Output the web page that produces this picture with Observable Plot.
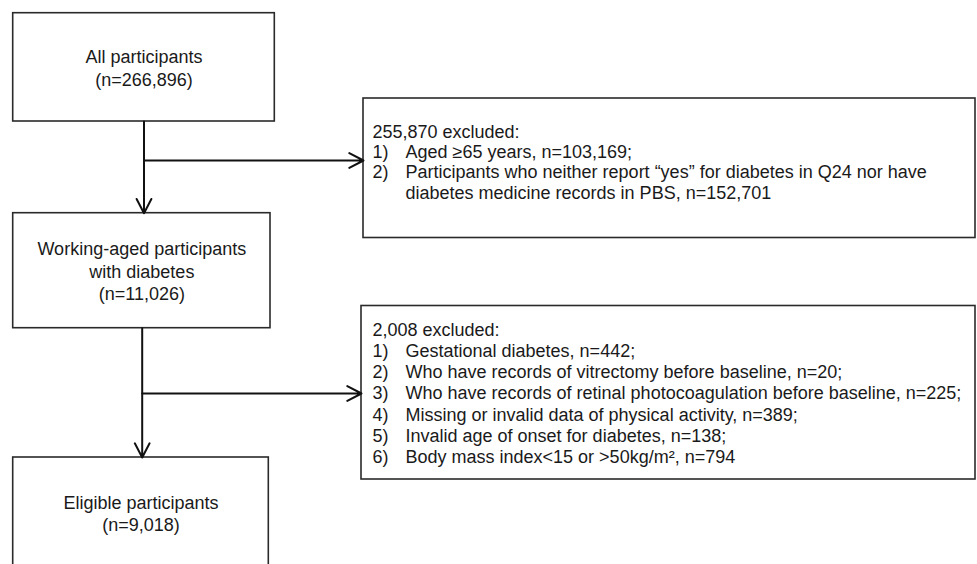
<!DOCTYPE html>
<html>
<head>
<meta charset="utf-8">
<script src="https://cdn.jsdelivr.net/npm/d3@7"></script>
<script src="https://cdn.jsdelivr.net/npm/@observablehq/plot@0.6"></script>
<style>
  html, body { margin: 0; padding: 0; background: #fff; overflow: hidden; }
</style>
</head>
<body>
<div id="chart"></div>
<script>
// ---- Data (text content of the flow diagram) ----
const stageLabels = [
  ["All participants", "(n=266,896)"],
  ["Working-aged participants", "with diabetes", "(n=11,026)"],
  ["Eligible participants", "(n=9,018)"]
];
const exclusionHeaders = ["255,870 excluded:", "2,008 excluded:"];
const exclusionNumbers1 = ["1)", "2)"];
const exclusionItems1 = [
  ["Aged ≥65 years, n=103,169;"],
  ["Participants who neither report “yes” for diabetes in Q24 nor have", "diabetes medicine records in PBS, n=152,701"]
];
const exclusionNumbers2 = ["1)", "2)", "3)", "4)", "5)", "6)"];
const exclusionItems2 = [
  ["Gestational diabetes, n=442;"],
  ["Who have records of vitrectomy before baseline, n=20;"],
  ["Who have records of retinal photocoagulation before baseline, n=225;"],
  ["Missing or invalid data of physical activity, n=389;"],
  ["Invalid age of onset for diabetes, n=138;"],
  ["Body mass index<15 or >50kg/m², n=794"]
];

// ---- Layout (diagram geometry) ----
const W = 977, H = 564;
const stageBoxes = [
  {x1: 12.7, y1: 12.7, x2: 274.3, y2: 121, lineY: [57, 80]},
  {x1: 12.7, y1: 212.7, x2: 270, y2: 327.7, lineY: [249, 271.5, 293.5]},
  {x1: 12.7, y1: 457, x2: 268.3, y2: 580, lineY: [503, 525]}
];
const exclBoxes = [
  {x1: 363, y1: 98, x2: 975, y2: 237.5, top: 131.7, step: 20.2},
  {x1: 361, y1: 305.5, x2: 975, y2: 479, top: 329.3, step: 21.3}
];
const numX = 372, itemX = 405, headX = 372;

const boxes = [...stageBoxes, ...exclBoxes];

const stageText = [];
stageBoxes.forEach((b, i) => {
  stageLabels[i].forEach((t, j) => {
    stageText.push({x: (b.x1 + b.x2) / 2, y: b.lineY[j], text: t});
  });
});

const exclText = [];
function addExcl(box, header, nums, items) {
  let row = 0;
  exclText.push({x: headX, y: box.top, text: header});
  row++;
  items.forEach((lines, i) => {
    exclText.push({x: numX, y: box.top + row * box.step, text: nums[i]});
    lines.forEach((l) => {
      exclText.push({x: itemX, y: box.top + row * box.step, text: l});
      row++;
    });
  });
}
addExcl(exclBoxes[0], exclusionHeaders[0], exclusionNumbers1, exclusionItems1);
addExcl(exclBoxes[1], exclusionHeaders[1], exclusionNumbers2, exclusionItems2);

const c1 = (stageBoxes[0].x1 + stageBoxes[0].x2) / 2;
const c2 = 141.7;
const arrows = [
  {x1: c1, y1: stageBoxes[0].y2, x2: c1, y2: stageBoxes[1].y1},
  {x1: c1, y1: 160, x2: exclBoxes[0].x1, y2: 160},
  {x1: c2, y1: stageBoxes[1].y2, x2: c2, y2: stageBoxes[2].y1},
  {x1: c2, y1: 393, x2: exclBoxes[1].x1, y2: 393}
];

const font = "'Liberation Sans', Arial, Helvetica, sans-serif";

const chart = Plot.plot({
  width: W,
  height: H,
  margin: 0,
  style: {fontFamily: font, background: "#fff"},
  x: {domain: [0, W], range: [0, W], axis: null},
  y: {domain: [0, H], range: [0, H], axis: null},
  marks: [
    Plot.rect(boxes, {x1: "x1", y1: "y1", x2: "x2", y2: "y2", fill: "white", stroke: "#2a2a2a", strokeWidth: 1.6}),
    Plot.arrow(arrows, {x1: "x1", y1: "y1", x2: "x2", y2: "y2", stroke: "#111", strokeWidth: 2, headLength: 12, headAngle: 55, bend: 0}),
    Plot.text(stageText, {x: "x", y: "y", text: "text", textAnchor: "middle", fontSize: 18, fill: "#1a1a1a", fontFamily: font}),
    Plot.text(exclText, {x: "x", y: "y", text: "text", textAnchor: "start", fontSize: 18, fill: "#1a1a1a", fontFamily: font})
  ]
});
document.getElementById("chart").appendChild(chart);
</script>
</body>
</html>
